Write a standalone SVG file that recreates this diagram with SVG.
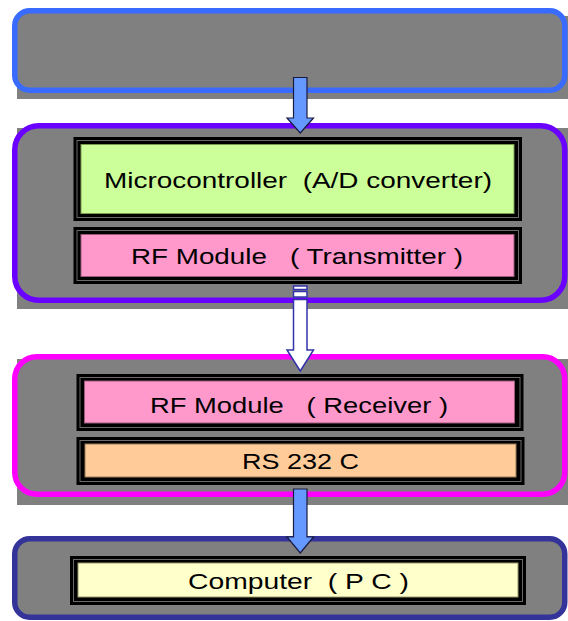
<svg xmlns="http://www.w3.org/2000/svg" width="568" height="621" viewBox="0 0 568 621">
<style>
.shadow{fill:#808080}
.panel{fill:#808080;stroke-width:5.5}
.frame{fill:#000}
.line{fill:none;stroke:#6a6a6a;stroke-width:1}
.lbl{font-family:"Liberation Sans",Arial,sans-serif;font-size:22px;fill:#000;text-anchor:start;white-space:pre}
.arrowBlue{fill:#6699FF;stroke:#1a1a40;stroke-width:1.2}
.arrowWhite{fill:#fff;stroke:#3333AA;stroke-width:1.5}
</style>
<g id="stage-sensor">
<rect class="shadow" x="17" y="16" width="560" height="83"/>
<rect class="panel" x="14.75" y="10.75" width="550" height="79.5" rx="15" stroke="#3A6BFF"/>
</g>
<g id="stage-transmit">
<rect class="shadow" x="17" y="128" width="560" height="181"/>
<rect class="panel" x="14.75" y="125.75" width="550" height="174.5" rx="24" stroke="#6A00FF"/>
</g>
<g id="microcontroller">
<rect class="frame" x="73.5" y="137" width="448.5" height="84"/>
<rect class="line" x="77" y="140.5" width="441.5" height="77"/>
<rect x="81" y="144.5" width="433" height="69" fill="#CCFF99" stroke="#7a9a50" stroke-width="1"/>
<text class="lbl" x="104" y="188" textLength="388" lengthAdjust="spacingAndGlyphs">Microcontroller  (A/D converter)</text>
</g>
<g id="rf-transmitter">
<rect class="frame" x="73.5" y="227" width="448.5" height="57"/>
<rect class="line" x="77" y="230.5" width="441.5" height="50"/>
<rect x="81" y="234.5" width="433" height="42" fill="#FF99CC" stroke="#9a5a7a" stroke-width="1"/>
<text class="lbl" x="131" y="264" textLength="332" lengthAdjust="spacingAndGlyphs">RF Module   ( Transmitter )</text>
</g>
<g id="stage-receive">
<rect class="shadow" x="17" y="359" width="560" height="146"/>
<rect class="panel" x="14.75" y="356.75" width="550" height="137.5" rx="22" stroke="#FF00FF"/>
</g>
<g id="rf-receiver">
<rect class="frame" x="76.5" y="374" width="447" height="57"/>
<rect class="line" x="80" y="377.5" width="440" height="50"/>
<rect x="84.5" y="381" width="430" height="42" fill="#FF99CC" stroke="#9a5a7a" stroke-width="1"/>
<text class="lbl" x="150" y="413" textLength="298" lengthAdjust="spacingAndGlyphs">RF Module   ( Receiver )</text>
</g>
<g id="rs232">
<rect class="frame" x="76.5" y="437" width="448" height="48"/>
<rect class="line" x="80" y="440.5" width="441" height="41"/>
<rect x="85" y="444" width="431" height="33" fill="#FFCC99" stroke="#9a7a5a" stroke-width="1"/>
<text class="lbl" x="242" y="469" textLength="117" lengthAdjust="spacingAndGlyphs">RS 232 C</text>
</g>
<g id="stage-pc">
<rect class="panel" x="14.75" y="538.75" width="550" height="78.5" rx="15" stroke="#333399"/>
</g>
<g id="computer">
<rect class="frame" x="70" y="556" width="456" height="49"/>
<rect class="line" x="73.5" y="559.5" width="449" height="42"/>
<rect x="78" y="563" width="440" height="34" fill="#FFFFCC" stroke="#9a9a6a" stroke-width="1"/>
<text class="lbl" x="188" y="589" textLength="221" lengthAdjust="spacingAndGlyphs">Computer  ( P C )</text>
</g>
<g id="connectors">
<path class="arrowBlue" d="M293.5 77.5 H307 V118 H313.5 L300.25 133 L287 118 H293.5 Z"/>
<rect class="arrowWhite" x="293.5" y="286" width="13.5" height="3.5"/>
<rect class="arrowWhite" x="293.5" y="291.5" width="13.5" height="5.5"/>
<path class="arrowWhite" d="M293.5 299.5 H307 V350 H313.5 L300.25 371 L287 350 H293.5 Z"/>
<path class="arrowBlue" d="M293.5 489 H307 V537 H313.5 L300.25 553 L287 537 H293.5 Z"/>
</g>
</svg>
